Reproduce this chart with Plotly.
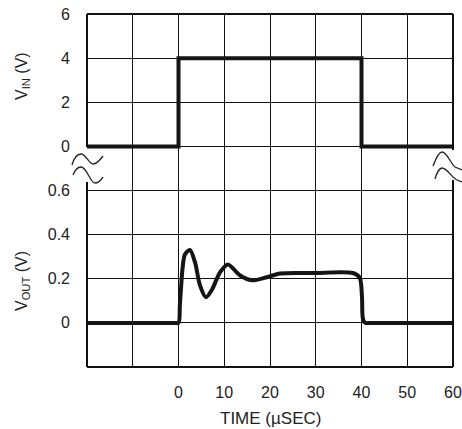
import plotly.graph_objects as go

# ---- data ----
vin_t = [-20, 0, 0, 40, 40, 60]
vin_v = [0, 0, 4, 4, 0, 0]

vout_t = [-20, -1, 0, 0.3, 0.9, 1.4, 2.5, 3.6, 4.7, 6.0, 7.3, 9.1, 10.8, 13.4, 16.0, 19.3, 22.2, 29.4, 38.1, 39.6, 40.1, 40.3, 40.8, 42, 60]
vout_v = [0, 0, 0, 0.08, 0.25, 0.31, 0.33, 0.275, 0.17, 0.116, 0.15, 0.23, 0.265, 0.216, 0.193, 0.207, 0.224, 0.226, 0.226, 0.205, 0.12, 0.02, 0, 0, 0]

x_ticks = [0, 10, 20, 30, 40, 50, 60]
x_labels = ["0", "10", "20", "30", "40", "50", "60"]
vin_ticks = [0, 2, 4, 6]
vin_labels = ["0", "2", "4", "6"]
vout_ticks = [0, 0.2, 0.4, 0.6]
vout_labels = ["0", "0.2", "0.4", "0.6"]

W, H = 462, 429
L, R, T, B = 87, 453, 14, 367

def px(x):
    return (x - L) / (R - L)

def py(y):
    return (B - y) / (B - T)

def path(pts):
    out = []
    for cmd, coords in pts:
        s = cmd
        s += " ".join(f"{px(a):.5f},{py(b):.5f}" for a, b in coords)
        out.append(s)
    return " ".join(out)

FONT = "Liberation Sans, Arial, Helvetica, sans-serif"
TXT = "#222222"
LINE = "#151515"
GRID = "#111111"

fig = go.Figure()
fig.add_trace(go.Scatter(x=vin_t, y=vin_v, mode="lines",
                         line=dict(color=LINE, width=4), yaxis="y",
                         showlegend=False, hoverinfo="skip"))
fig.add_trace(go.Scatter(x=vout_t, y=vout_v, mode="lines",
                         line=dict(color=LINE, width=4, shape="spline", smoothing=0.8),
                         yaxis="y2", showlegend=False, hoverinfo="skip"))

shapes = []
frame = dict(type="line", xref="paper", yref="paper", line=dict(color="#111111", width=2), layer="above")
shapes.append(dict(frame, x0=px(L), x1=px(R), y0=1, y1=1))
shapes.append(dict(frame, x0=px(L), x1=px(R), y0=0, y1=0))
shapes.append(dict(frame, x0=0, x1=0, y0=py(T), y1=py(147)))
shapes.append(dict(frame, x0=0, x1=0, y0=py(182), y1=0))
shapes.append(dict(frame, x0=1, x1=1, y0=py(T), y1=py(150)))
shapes.append(dict(frame, x0=1, x1=1, y0=py(180), y1=0))

sq = dict(type="path", xref="paper", yref="paper", line=dict(color="#222222", width=1.3), layer="above")
shapes.append(dict(sq, path=path([("M", [(72, 165)]), ("C", [(74, 158), (77, 154), (81, 154)]),
                                  ("C", [(86, 154), (89, 164), (93, 164)]),
                                  ("C", [(97, 164), (100, 160), (103, 156)])])))
shapes.append(dict(sq, path=path([("M", [(73, 175)]), ("C", [(75, 170), (78, 167), (81, 167)]),
                                  ("C", [(87, 167), (90, 183), (95, 183)]),
                                  ("C", [(99, 183), (101, 180), (103, 177)])])))
shapes.append(dict(sq, path=path([("M", [(433, 166)]), ("C", [(436, 158), (439, 152), (442, 152)]),
                                  ("C", [(447, 152), (451, 164), (455, 167)]),
                                  ("L", [(462, 170)])])))
shapes.append(dict(sq, path=path([("M", [(435, 179)]), ("C", [(437, 172), (440, 168), (442, 168)]),
                                  ("C", [(447, 168), (452, 178), (457, 180)]),
                                  ("L", [(462, 182)])])))

annotations = [
    dict(text="V<sub>IN</sub> (V)", xref="paper", yref="paper", x=px(22), y=py(76),
         textangle=-90, showarrow=False, xanchor="center", yanchor="middle",
         font=dict(family=FONT, size=16, color=TXT)),
    dict(text="V<sub>OUT</sub> (V)", xref="paper", yref="paper", x=px(22), y=py(281),
         textangle=-90, showarrow=False, xanchor="center", yanchor="middle",
         font=dict(family=FONT, size=16, color=TXT)),
    dict(text="TIME (µSEC)", xref="paper", yref="paper", x=px(270), y=py(418),
         showarrow=False, xanchor="center", yanchor="middle",
         font=dict(family=FONT, size=17, color=TXT)),
]

fig.update_layout(
    width=W, height=H,
    margin=dict(l=L, r=W - R, t=T, b=H - B, pad=0, autoexpand=False),
    paper_bgcolor="white", plot_bgcolor="white",
    font=dict(family=FONT, size=16, color=TXT),
    xaxis=dict(range=[-20, 60], tickvals=x_ticks, ticktext=x_labels, automargin=False,
               showgrid=True, gridcolor=GRID, gridwidth=1, zeroline=False,
               minor=dict(tick0=0, dtick=10, showgrid=True, gridcolor=GRID, gridwidth=1),
               showline=False, ticks="", ticklabelstandoff=14,
               tickfont=dict(family=FONT, size=16, color=TXT)),
    yaxis=dict(range=[-10, 6], tickvals=vin_ticks, ticktext=vin_labels, automargin=False,
               showgrid=True, gridcolor=GRID, gridwidth=1, zeroline=False,
               minor=dict(tick0=0, dtick=2, showgrid=True, gridcolor=GRID, gridwidth=1),
               showline=False, ticks="", ticklabelstandoff=16,
               tickfont=dict(family=FONT, size=16, color=TXT)),
    yaxis2=dict(range=[-0.2, 1.4], tickvals=vout_ticks, ticktext=vout_labels, automargin=False,
                overlaying="y", side="left", anchor="x",
                showgrid=False, zeroline=False, showline=False, ticks="",
                ticklabelstandoff=16,
                tickfont=dict(family=FONT, size=16, color=TXT)),
    shapes=shapes, annotations=annotations,
)

fig.write_html("out.html", config={"displayModeBar": False, "staticPlot": True},
               post_script="document.body.style.margin='0';document.body.style.padding='0';")
